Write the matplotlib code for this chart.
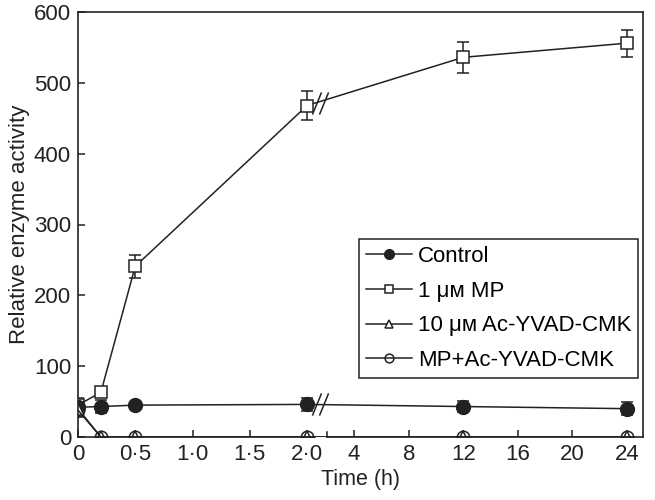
import numpy as np
import matplotlib
matplotlib.use("Agg")
import matplotlib.pyplot as plt
from matplotlib.path import Path
from matplotlib.transforms import blended_transform_factory

plt.rcParams['font.family'] = ['Liberation Sans', 'DejaVu Sans']
plt.rcParams['font.size'] = 16

# time points (h)
t = [0, 0.2, 0.5, 2.0, 12, 24]

control = [42, 43, 45, 46, 43, 40]
control_err = [8, 9, 0, 9, 8, 9]
mp = [45, 63, 241, 468, 536, 556]
mp_err = [10, 5, 16, 20, 22, 19]
acyvad = [40, 0, 0, 0, 0, 0]
acyvad_err = [10, 0, 0, 0, 0, 0]
mp_acyvad = [38, 0, 0, 0, 0, 0]
mp_acyvad_err = [10, 0, 0, 0, 0, 0]

xticks = [0, 0.5, 1.0, 1.5, 2.0, 4, 8, 12, 16, 20, 24]
xticklabels = ['0', '0·5', '1·0', '1·5', '2·0', '4', '8', '12', '16', '20', '24']
yticks = [0, 100, 200, 300, 400, 500, 600]

# broken axis: 0-2 h linear, then compressed scale after a small gap
G = 0.172
K = 0.119


def fwd(x):
    x = np.asarray(x, dtype=float)
    return np.where(x <= 2, x, 2 + G + (x - 2) * K)


def inv(u):
    u = np.asarray(u, dtype=float)
    return np.where(u <= 2, u, np.where(u < 2 + G, 2, 2 + (u - 2 - G) / K))


ink = '#222222'
fig = plt.figure(figsize=(6.55, 5.0), dpi=100)
ax = fig.add_axes([0.119, 0.126, 0.8627, 0.85])
ax.set_xscale('function', functions=(fwd, inv))

common = dict(color=ink, lw=1.1, capsize=4.5, elinewidth=1.1, capthick=1.1)
c1 = ax.errorbar(t, control, yerr=control_err, marker='o', ms=10, mfc=ink, mec=ink,
                 zorder=4, **common)
c2 = ax.errorbar(t, mp, yerr=mp_err, marker='s', ms=9, mfc='white', mec=ink, mew=1.1,
                 zorder=3, **common)
c3 = ax.errorbar(t, acyvad, yerr=acyvad_err, marker='^', ms=9, mfc='white', mec=ink, mew=1.1,
                 zorder=5, **common)
c4 = ax.errorbar(t, mp_acyvad, yerr=mp_acyvad_err, marker='o', ms=9, mfc='none', mec=ink, mew=1.1,
                 zorder=6, **common)

ax.set_xlim(0, 25.18)
ax.set_ylim(0, 600)
ax.set_xticks(xticks)
ax.set_xticklabels(xticklabels)
ax.set_yticks(yticks)
ax.tick_params(direction='in', length=5, width=1.1, color=ink, labelcolor=ink, pad=5,
               labelsize=16)

for s in ['left', 'top', 'right']:
    ax.spines[s].set_linewidth(1.2)
    ax.spines[s].set_color(ink)
ax.spines['bottom'].set_visible(False)

# broken bottom axis drawn as two pieces
ax.plot([0, 0.42], [0, 0], transform=ax.transAxes, color=ink, lw=1.2, clip_on=False, zorder=2)
ax.plot([0.44, 1], [0, 0], transform=ax.transAxes, color=ink, lw=1.2, clip_on=False, zorder=2)
ax.plot([0.44, 0.44], [0, 0.012], transform=ax.transAxes, color=ink, lw=1.1, clip_on=False)

# "//" break marks on the lines
brk = Path([(-1.6, -2.2), (0.2, 2.2), (-0.2, -2.2), (1.6, 2.2)],
           [Path.MOVETO, Path.LINETO, Path.MOVETO, Path.LINETO])
btr = blended_transform_factory(ax.transAxes, ax.transData)
ax.plot([0.428, 0.428], [control[3], mp[3] + 4], transform=btr, ls='none',
        marker=brk, ms=16, mec=ink, mew=1.1, zorder=7)

ax.set_xlabel('Time (h)', color=ink, labelpad=3, fontsize=15.5)
ax.set_ylabel('Relative enzyme activity', color=ink, fontsize=16)
ax.yaxis.set_label_coords(-0.085, 0.5)

handles = [c1[0], c2[0], c3[0], c4[0]]
labels = ['Control', '1 μᴍ MP', '10 μᴍ Ac-YVAD-CMK', 'MP+Ac-YVAD-CMK']
leg = ax.legend(handles, labels, loc='lower right', bbox_to_anchor=(0.991, 0.139),
                borderaxespad=0, fancybox=False, edgecolor=ink, framealpha=1,
                fontsize=16, handlelength=2.1, labelspacing=0.62, handletextpad=0.25,
                markerscale=0.7, borderpad=0.3)
leg.get_frame().set_linewidth(1.1)

fig.savefig('out.png', dpi=100)
